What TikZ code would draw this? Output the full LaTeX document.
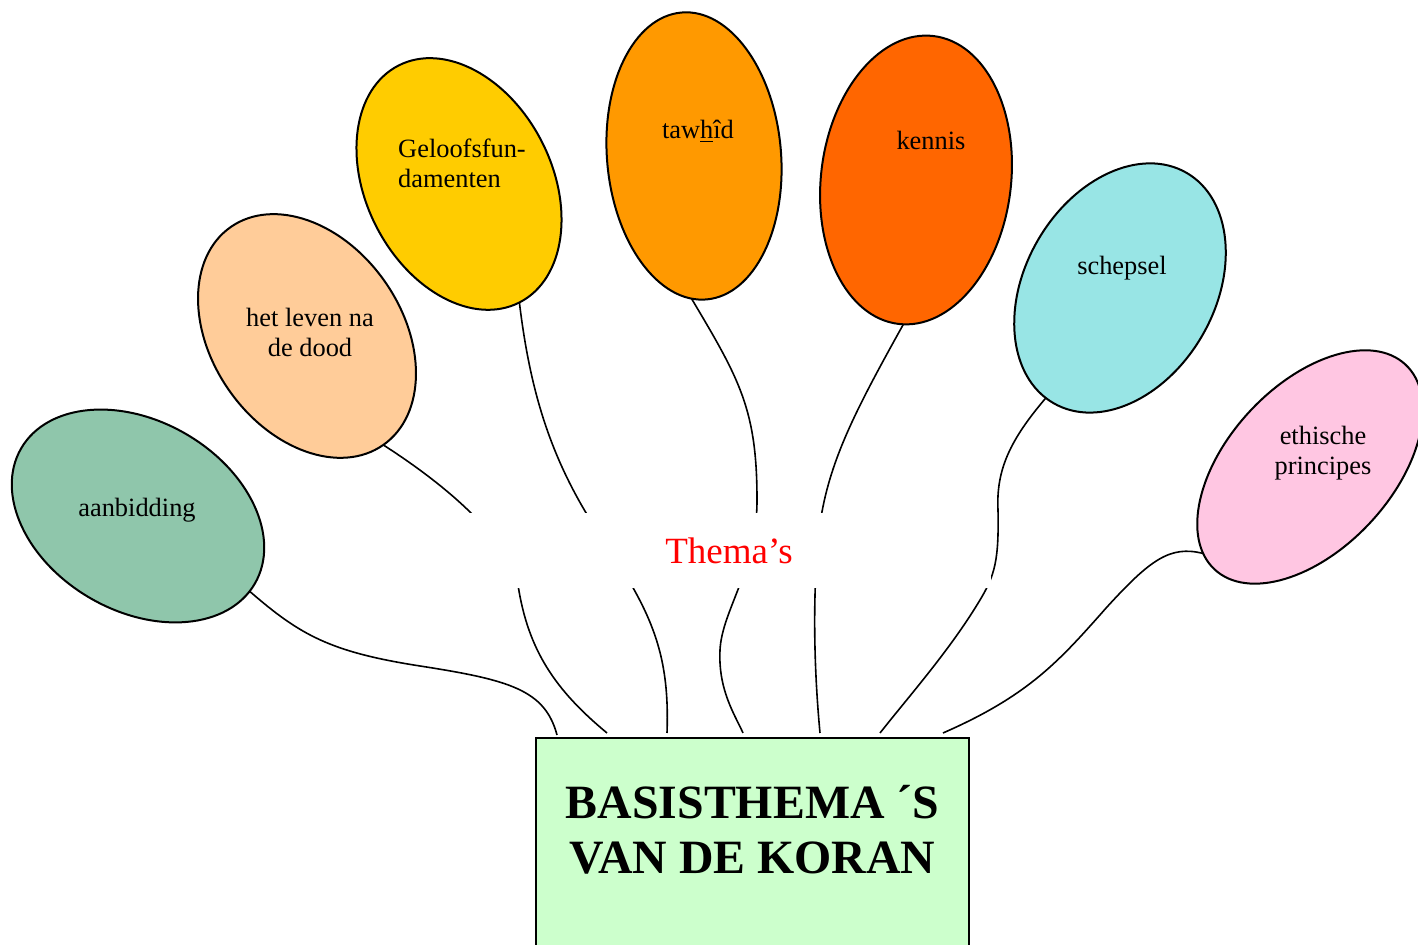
\documentclass[tikz,border=0pt]{standalone}
\usepackage{fontspec}
\setmainfont{Liberation Serif}
\usetikzlibrary{shapes.geometric}
\definecolor{koransea}{RGB}{143,198,171}
\definecolor{koranpeach}{RGB}{255,204,153}
\definecolor{korangold}{RGB}{255,204,0}
\definecolor{koranamber}{RGB}{255,153,0}
\definecolor{koranorange}{RGB}{255,102,0}
\definecolor{koranaqua}{RGB}{152,229,229}
\definecolor{koranpink}{RGB}{255,198,226}
\definecolor{koranmint}{RGB}{204,255,204}

\begin{document}
\begin{tikzpicture}[x=0.5pt,y=0.5pt,
  bubble/.style={ellipse,draw,line width=1pt,inner sep=0pt,outer sep=0pt},
  stem/.style={line width=0.8pt},
  lbl/.style={font=\fontsize{13.2}{15}\selectfont,align=center,inner sep=0pt}]
\useasboundingbox (0,0) rectangle (1418,945);
% the seven theme balloons
\node[bubble,fill=koransea,minimum width=135pt,minimum height=95pt,rotate=-30] (e1) at (138,429) {};
\node[bubble,fill=koranpeach,minimum width=133pt,minimum height=95pt,rotate=-55] (e2) at (307,609) {};
\node[bubble,fill=korangold,minimum width=133pt,minimum height=93pt,rotate=-63] (e3) at (459,761) {};
\node[bubble,fill=koranamber,minimum width=144pt,minimum height=87pt,rotate=-85] (e4) at (694,789) {};
\node[bubble,fill=koranorange,minimum width=145pt,minimum height=95pt,rotate=83] (e5) at (916,765) {};
\node[bubble,fill=koranaqua,minimum width=133pt,minimum height=95pt,rotate=60] (e6) at (1120,657) {};
\node[bubble,fill=koranpink,minimum width=140pt,minimum height=82pt,rotate=47] (e7) at (1310,478) {};
\node[lbl] (t1) at (137,435) {aanbidding};
\node[lbl] (t2) at (310,613) {het leven na\\de dood};
\node[lbl,align=left] (t3) at (462,782) {Geloofsfun-\\damenten};
\node[lbl] (t4) at (698,814) {taw\underline{h}îd};
\node[lbl] (t5) at (931,805) {kennis};
\node[lbl] (t6) at (1122,677) {schepsel};
\node[lbl] (t7) at (1323,492) {ethische\\principes};
% strings end just above the box
\coordinate (k1) at (557,210);
\coordinate (k2) at (607,212);
\coordinate (k3) at (667,212);
\coordinate (k4) at (743,212);
\coordinate (k5) at (820,212);
\coordinate (k6) at (880,212);
\coordinate (k7) at (943,212);
\draw[stem] (e1.-4) .. controls (300,310) and (330,293) .. (420,279) .. controls (510,265) and (545,255) .. (k1);
\draw[stem] (e2.east) .. controls (430,470) and (505,415) .. (518,360) .. controls (528,295) and (555,255) .. (k2);
\draw[stem] (e3.east) .. controls (530,555) and (550,485) .. (600,410) .. controls (650,335) and (670,295) .. (k3);
\draw[stem] (e4.-6) .. controls (740,565) and (757,535) .. (757,445) .. controls (757,375) and (722,335) .. (720,295) .. controls (718,255) and (735,230) .. (k4);
\draw[stem] (e5.182) .. controls (850,525) and (825,475) .. (818,405) .. controls (812,335) and (815,265) .. (k5);
\draw[stem] (e6.176) .. controls (1010,505) and (996,475) .. (998,435) .. controls (999,385) and (995,370) .. (980,345) .. controls (950,295) and (910,250) .. (k6);
\draw[stem] (e7.172) .. controls (1170,400) and (1150,385) .. (1107,338) .. controls (1060,285) and (1030,250) .. (k7);
% label over the strings
\node[fill=white,inner sep=0pt,minimum width=262pt,minimum height=37.5pt,text=red,font=\fontsize{18.5}{22}\selectfont] (thema) at (729,394) {Thema’s};
% the base box
\node[draw,line width=1pt,fill=koranmint,minimum width=216.5pt,minimum height=113.5pt,inner sep=0pt] (koran) at (752.5,93.5) {};
\node[font=\bfseries\fontsize{23.9}{27.5}\selectfont,align=center,inner sep=0pt] (titel) at (752.5,115) {BASISTHEMA ´S\\VAN DE KORAN};
\end{tikzpicture}
\end{document}
